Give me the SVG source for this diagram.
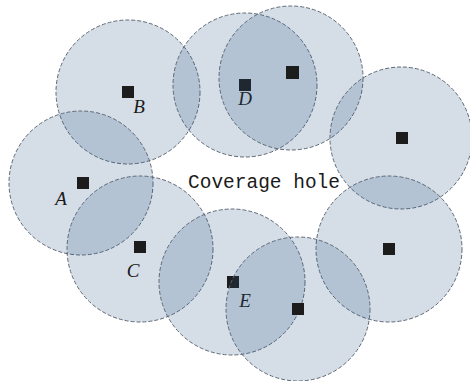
<svg xmlns="http://www.w3.org/2000/svg" width="470" height="381" viewBox="0 0 470 381">
  <style>
    .range { fill: #2c5888; fill-opacity: 0.2; stroke: #5d6876; stroke-width: 1; stroke-dasharray: 4 2; }
    .sensor { fill: #1c1c1c; }
    .tag { font-family: "Liberation Serif", "DejaVu Serif", serif; font-style: italic; font-size: 19px; fill: #1a1a1a; text-anchor: middle; }
    .note { font-family: "Liberation Mono", "DejaVu Sans Mono", monospace; font-size: 19.5px; fill: #1a1a1a; }
  </style>
  <rect width="470" height="381" fill="#ffffff"/>

  <!-- sensing ranges -->
  <g id="sensor-B">
    <circle class="range" cx="128" cy="92" r="72"/>
    <rect class="sensor" x="122" y="86" width="12" height="12"/>
    <text class="tag" x="139" y="113">B</text>
  </g>
  <g id="sensor-D">
    <circle class="range" cx="245" cy="85" r="72"/>
    <rect class="sensor" x="239" y="79" width="12" height="12"/>
    <text class="tag" x="245" y="105">D</text>
  </g>
  <g id="sensor-D2">
    <circle class="range" cx="291" cy="78" r="72"/>
    <rect class="sensor" x="286" y="66" width="13" height="13"/>
  </g>
  <g id="sensor-right-top">
    <circle class="range" cx="401" cy="138" r="71"/>
    <rect class="sensor" x="396" y="132" width="12" height="12"/>
  </g>
  <g id="sensor-A">
    <circle class="range" cx="81" cy="183" r="72"/>
    <rect class="sensor" x="77" y="177" width="12" height="12"/>
    <text class="tag" x="61" y="205">A</text>
  </g>
  <g id="sensor-C">
    <circle class="range" cx="140" cy="249" r="73"/>
    <rect class="sensor" x="134" y="241" width="12" height="12"/>
    <text class="tag" x="133" y="277">C</text>
  </g>
  <g id="sensor-right-bottom">
    <circle class="range" cx="389" cy="249" r="73"/>
    <rect class="sensor" x="383" y="243" width="12" height="12"/>
  </g>
  <g id="sensor-E">
    <circle class="range" cx="232" cy="282" r="73"/>
    <rect class="sensor" x="227" y="276" width="12" height="12"/>
    <text class="tag" x="245" y="307">E</text>
  </g>
  <g id="sensor-E2">
    <circle class="range" cx="298" cy="309" r="72"/>
    <rect class="sensor" x="292" y="303" width="12" height="12"/>
  </g>

  <text class="note" x="188" y="188" textLength="152" lengthAdjust="spacingAndGlyphs">Coverage hole</text>
</svg>
